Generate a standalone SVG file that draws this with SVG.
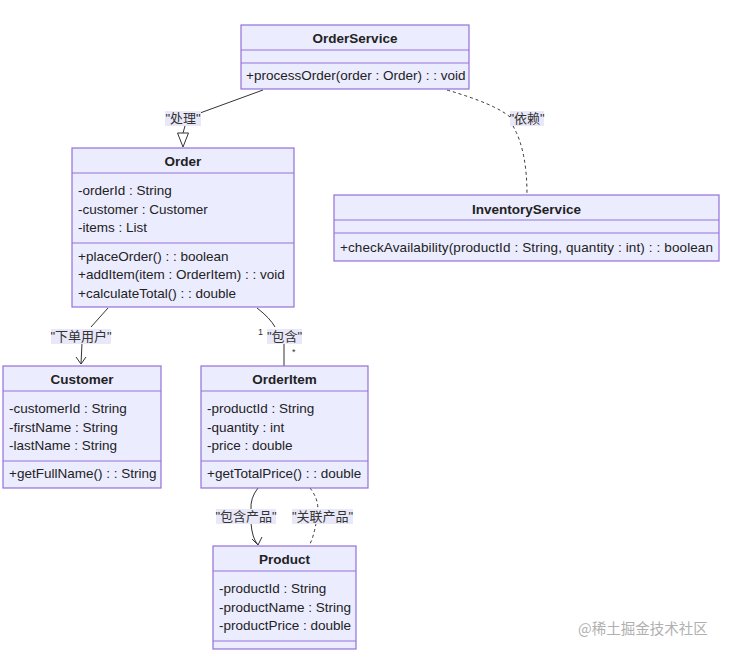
<svg xmlns="http://www.w3.org/2000/svg" width="732" height="657" viewBox="0 0 732 657">
<style>
.box{fill:#ececff;stroke:#9370db;stroke-width:1.2}
.div{stroke:#9370db;stroke-width:1.2}
.t{font-family:"Liberation Sans","DejaVu Sans","Noto Sans CJK SC",sans-serif;font-size:13.5px;fill:#222}
.h{font-weight:bold;text-anchor:middle}
.e{fill:none;stroke:#333;stroke-width:1}
.d{stroke-dasharray:3,3}
.lb{fill:#e8e8f8}
.lt{font-family:"Liberation Sans","Noto Sans CJK SC",sans-serif;font-size:13px;fill:#333;text-anchor:middle}
.s{font-family:"Liberation Sans",sans-serif;font-size:9px;fill:#333}
</style>
<rect width="732" height="657" fill="#ffffff"/>
<g id="connectors">
  <path class="e" d="M263,90 L200,113"/>
  <path class="e" d="M185,126 L183,133"/>
  <polygon points="177.5,133 188.5,133 183,147" fill="#fff" stroke="#333" stroke-width="1"/>
  <path class="e d" d="M447,90 Q495,104 510,117"/>
  <path class="e d" d="M513,126 Q527,150 527,195"/>
  <path class="e" d="M108,308 L91,327"/>
  <path class="e" d="M82,343 L81,364"/>
  <path class="e" d="M76,357 L81,364 L86,357"/>
  <path class="e" d="M257,308 Q270,318 275,327"/>
  <path class="e" d="M284,343 L284,366"/>
  <path class="e" d="M258,488 Q250,498 251,510"/>
  <path class="e" d="M251,523 Q252,538 258,545"/>
  <path class="e" d="M252,539 L258,545 L262,537"/>
  <path class="e d" d="M310,488 Q318,498 318,510"/>
  <path class="e d" d="M316,523 Q314,536 309,546"/>
  <rect class="lb" x="165" y="111" width="36" height="15"/>
  <text class="lt" x="183" y="123">"处理"</text>
  <rect class="lb" x="510" y="111" width="34" height="15"/>
  <text class="lt" x="527" y="123">"依赖"</text>
  <rect class="lb" x="51" y="329" width="60" height="15"/>
  <text class="lt" x="81" y="341">"下单用户"</text>
  <rect class="lb" x="267" y="329" width="35" height="15"/>
  <text class="lt" x="284.5" y="341">"包含"</text>
  <text class="s" x="258" y="335">1</text>
  <text class="s" x="292" y="355">*</text>
  <rect class="lb" x="216" y="509" width="60" height="15"/>
  <text class="lt" x="246" y="521">"包含产品"</text>
  <rect class="lb" x="292" y="509" width="61" height="15"/>
  <text class="lt" x="322.5" y="521">"关联产品"</text>
</g>
<g id="OrderService">
  <rect class="box" x="241" y="25" width="228" height="64"/>
  <line class="div" x1="241" y1="50" x2="469" y2="50"/>
  <line class="div" x1="241" y1="63" x2="469" y2="63"/>
  <text class="t h" x="355" y="43">OrderService</text>
  <text class="t" x="246" y="80">+processOrder(order : Order) : : void</text>
</g>
<g id="Order">
  <rect class="box" x="72" y="148" width="222" height="159"/>
  <line class="div" x1="72" y1="173" x2="294" y2="173"/>
  <line class="div" x1="72" y1="243" x2="294" y2="243"/>
  <text class="t h" x="183" y="166">Order</text>
  <text class="t" x="78" y="195">-orderId : String</text>
  <text class="t" x="78" y="214">-customer : Customer</text>
  <text class="t" x="78" y="232">-items : List</text>
  <text class="t" x="78" y="261">+placeOrder() : : boolean</text>
  <text class="t" x="78" y="279">+addItem(item : OrderItem) : : void</text>
  <text class="t" x="78" y="298">+calculateTotal() : : double</text>
</g>
<g id="InventoryService">
  <rect class="box" x="334" y="195" width="385" height="66"/>
  <line class="div" x1="334" y1="220" x2="719" y2="220"/>
  <line class="div" x1="334" y1="233" x2="719" y2="233"/>
  <text class="t h" x="526.5" y="214">InventoryService</text>
  <text class="t" x="340" y="252" textLength="373" lengthAdjust="spacing">+checkAvailability(productId : String, quantity : int) : : boolean</text>
</g>
<g id="Customer">
  <rect class="box" x="3" y="366" width="158" height="122"/>
  <line class="div" x1="3" y1="391" x2="161" y2="391"/>
  <line class="div" x1="3" y1="461" x2="161" y2="461"/>
  <text class="t h" x="82" y="384">Customer</text>
  <text class="t" x="9" y="413">-customerId : String</text>
  <text class="t" x="9" y="432">-firstName : String</text>
  <text class="t" x="9" y="450">-lastName : String</text>
  <text class="t" x="9" y="478">+getFullName() : : String</text>
</g>
<g id="OrderItem">
  <rect class="box" x="201" y="366" width="167" height="122"/>
  <line class="div" x1="201" y1="391" x2="368" y2="391"/>
  <line class="div" x1="201" y1="461" x2="368" y2="461"/>
  <text class="t h" x="284.5" y="384">OrderItem</text>
  <text class="t" x="207" y="413">-productId : String</text>
  <text class="t" x="207" y="432">-quantity : int</text>
  <text class="t" x="207" y="450">-price : double</text>
  <text class="t" x="207" y="478">+getTotalPrice() : : double</text>
</g>
<g id="Product">
  <rect class="box" x="213" y="546" width="143" height="103"/>
  <line class="div" x1="213" y1="571" x2="356" y2="571"/>
  <line class="div" x1="213" y1="641" x2="356" y2="641"/>
  <text class="t h" x="284.5" y="564">Product</text>
  <text class="t" x="219" y="593">-productId : String</text>
  <text class="t" x="219" y="612">-productName : String</text>
  <text class="t" x="219" y="630">-productPrice : double</text>
</g>
<text x="578" y="634" style="font-family:'Noto Sans CJK SC',sans-serif;font-size:14.5px;fill:#b0b0b0">@稀土掘金技术社区</text>
</svg>
